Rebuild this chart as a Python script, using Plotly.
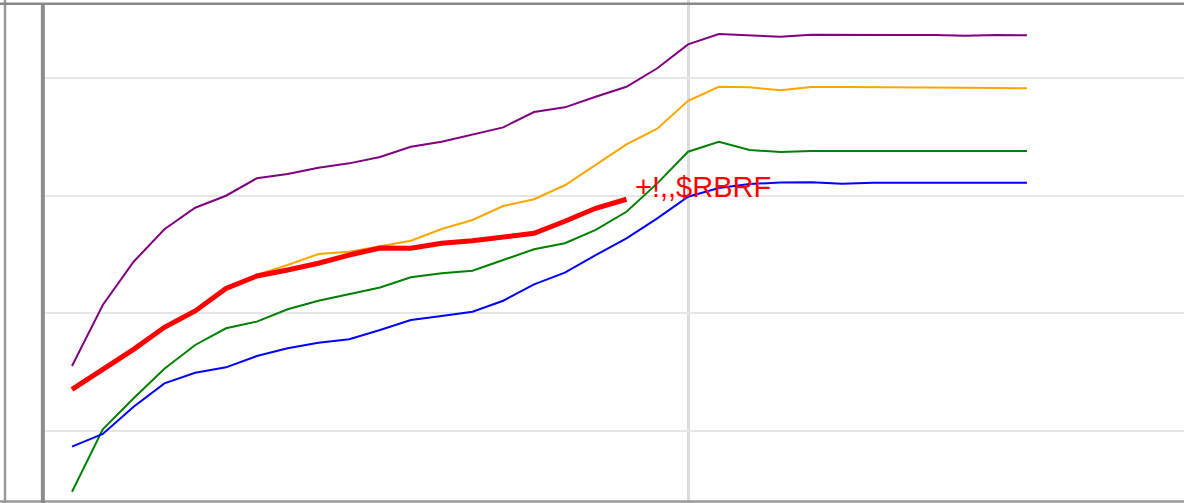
import plotly.graph_objects as go

x_all = list(range(32))
x_red = list(range(19))

purple = [15.52, 20.71, 24.38, 27.14, 28.97, 29.99, 31.47, 31.84, 32.37, 32.74, 33.28,
          34.15, 34.58, 35.21, 35.80, 37.10, 37.50, 38.40, 39.25, 40.82, 42.85,
          43.73, 43.64, 43.50, 43.67, 43.64, 43.64, 43.64, 43.64, 43.59, 43.64, 43.62]
orange = [13.54, 15.27, 16.94, 18.81, 20.20, 22.12, 23.25, 24.10, 25.04, 25.23, 25.72,
          26.17, 27.16, 27.93, 29.12, 29.69, 30.88, 32.60, 34.36, 35.68, 38.06,
          39.25, 39.20, 38.95, 39.23, 39.23, 39.23, 39.23, 39.23, 39.17, 39.14, 39.12]
green = [4.84, 10.14, 12.78, 15.29, 17.31, 18.73, 19.29, 20.34, 21.07, 21.64, 22.19,
         23.06, 23.40, 23.62, 24.53, 25.44, 25.95, 27.08, 28.63, 31.04, 33.73,
         34.58, 33.87, 33.70, 33.79, 33.79, 33.79, 33.79, 33.79, 33.79, 33.79, 33.79]
blue = [8.67, 9.75, 12.06, 14.05, 14.95, 15.41, 16.37, 17.03, 17.50, 17.79, 18.58,
        19.43, 19.77, 20.14, 21.07, 22.46, 23.45, 24.95, 26.37, 28.07, 29.91,
        30.65, 30.99, 31.11, 31.13, 31.01, 31.10, 31.07, 31.10, 31.10, 31.10, 31.10]
red = [13.54, 15.27, 16.94, 18.81, 20.20, 22.12, 23.17, 23.68, 24.25, 24.95, 25.55,
       25.52, 25.95, 26.17, 26.51, 26.80, 27.82, 28.92, 29.69]
red_label = "+!,,$RBRF"

fig = go.Figure()
for vals, col in [(purple, "purple"), (orange, "orange"), (green, "green"), (blue, "blue")]:
    fig.add_trace(go.Scatter(x=x_all, y=vals, mode="lines",
                             line=dict(color=col, width=2), showlegend=False,
                             hoverinfo="skip"))
fig.add_trace(go.Scatter(x=x_red, y=red, mode="lines",
                         line=dict(color="red", width=5), showlegend=False,
                         hoverinfo="skip"))

fig.add_annotation(x=x_red[-1], y=red[-1], text=red_label, showarrow=False,
                   xanchor="left", yanchor="middle", xshift=7, yshift=12,
                   font=dict(family="Liberation Sans, Arial, sans-serif", size=29, color="red"))

fig.update_layout(
    width=1184, height=503,
    margin=dict(l=44, r=0, t=0, b=0),
    paper_bgcolor="white", plot_bgcolor="white",
    hovermode=False,
    xaxis=dict(range=[-0.909, 36.10], tickvals=[20], showticklabels=False,
               showgrid=True, gridcolor="#dcdcdc", gridwidth=2.5,
               zeroline=False, showline=False, ticks=""),
    yaxis=dict(range=[3.883, 46.62], tickvals=[10, 20, 30, 40], showticklabels=False,
               showgrid=True, gridcolor="#e6e6e6", gridwidth=2,
               zeroline=False, showline=False, ticks=""),
)

# frame lines (left border, top border, bottom border) and thick axis line
fig.add_shape(type="line", xref="paper", yref="paper", x0=-0.0342, x1=-0.0342, y0=0, y1=1,
              line=dict(color="#999999", width=2.5))
fig.add_shape(type="line", xref="paper", yref="paper", x0=-0.04, x1=1.0, y0=0.9927, y1=0.9927,
              line=dict(color="#888888", width=2.5))
fig.add_shape(type="line", xref="paper", yref="paper", x0=-0.04, x1=1.0, y0=0.003, y1=0.003,
              line=dict(color="#999999", width=2.5))
fig.add_shape(type="line", xref="paper", yref="paper", x0=-0.001, x1=-0.001, y0=0, y1=0.993,
              line=dict(color="#8c8c8c", width=4))

fig.write_html("out.html", config={"displayModeBar": False},
               post_script="document.body.style.margin='0';document.body.style.overflow='hidden';")
